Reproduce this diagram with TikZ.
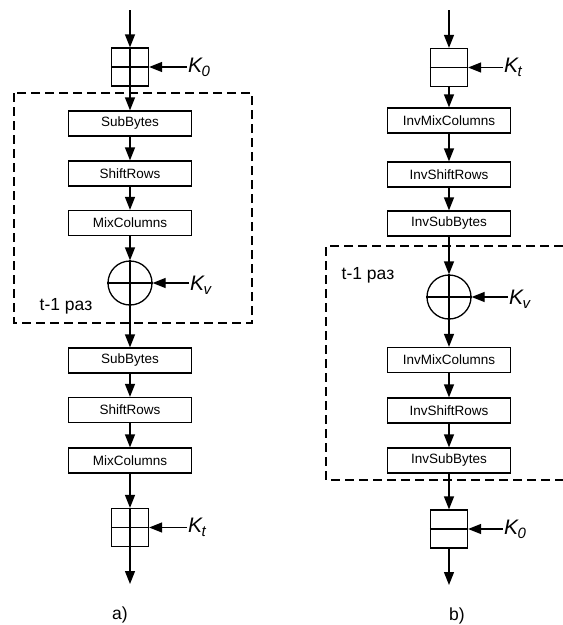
\documentclass[tikz,border=0pt]{standalone}
\usepackage{fontspec}
\setmainfont{Liberation Sans}
\usetikzlibrary{arrows.meta}
\newcommand\keylab[1]{{\fontsize{21}{21}\selectfont\itshape K\kern-0.5pt\raisebox{-4pt}{\fontsize{15}{15}\selectfont #1}}}
\begin{document}
\begin{tikzpicture}[x=1pt,y=-1pt,
  ln/.style={line width=1.3pt},
  arr/.style={ln,-{Triangle[length=13pt,width=10pt]}},
  opbox/.style={draw,ln,minimum width=123pt,minimum height=25pt,inner sep=0pt,font=\fontsize{13.5}{14}\selectfont},
  keybox/.style={draw,ln,minimum width=37pt,minimum height=38pt,inner sep=0pt},
  xorc/.style={draw,ln,circle,minimum size=44pt,inner sep=0pt},
  klabel/.style={anchor=west,inner sep=1pt},
  frame/.style={ln,dash pattern=on 9pt off 5pt},
  txt/.style={font=\fontsize{17.5}{17.5}\selectfont,inner sep=0pt}]
\useasboundingbox (0,0) rectangle (563,625);
% ---------------- a) ----------------
\coordinate (ain) at (130,10);
\node[keybox] (ka0) at (130,67) {};
\draw[ln] (ka0.north)--(ka0.south) (ka0.west)--(ka0.east);
\node[klabel] (lk0) at (187,67) {\keylab{0}};
\draw[frame] (14,93) rectangle (252,323);
\node[opbox] (sb1) at (130,123.5) {SubBytes};
\node[opbox] (sr1) at (130,173.5) {ShiftRows};
\node[opbox] (mc1) at (130,223) {MixColumns};
\node[xorc] (x1) at (130,283) {};
\draw[ln] (x1.north)--(x1.south) (x1.west)--(x1.east);
\node[klabel] (lkv1) at (189,285) {\keylab{v}};
\node[txt] (ta) at (66,306) {t-1 раз};
\node[opbox] (sb2) at (130,360.5) {SubBytes};
\node[opbox] (sr2) at (130,410) {ShiftRows};
\node[opbox] (mc2) at (130,460.5) {MixColumns};
\node[keybox] (ka1) at (130,527.5) {};
\draw[ln] (ka1.north)--(ka1.south) (ka1.west)--(ka1.east);
\node[klabel] (lkt1) at (187,527.5) {\keylab{t}};
\coordinate (aout) at (130,584);
\node[txt] (la) at (120,615) {a)};
\draw[arr] (ain)--(ka0.north);
\draw[arr] (lk0.west)--(ka0.east);
\draw[arr] (ka0.south)--(sb1.north);
\draw[arr] (sb1)--(sr1);
\draw[arr] (sr1)--(mc1);
\draw[arr] (mc1)--(x1.north);
\draw[arr] (lkv1.west|-x1.east)--(x1.east);
\draw[arr] (x1.south)--(sb2.north);
\draw[arr] (sb2)--(sr2);
\draw[arr] (sr2)--(mc2);
\draw[arr] (mc2)--(ka1.north);
\draw[arr] (lkt1.west)--(ka1.east);
\draw[arr] (ka1.south)--(aout);
% ---------------- b) ----------------
\coordinate (bin) at (449,10);
\node[keybox] (kb0) at (449,67.5) {};
\draw[ln] (kb0.west)--(kb0.east);
\node[klabel] (lkt2) at (503,67.5) {\keylab{t}};
\node[opbox] (imc1) at (449,120.5) {InvMixColumns};
\node[opbox] (isr1) at (449,174.5) {InvShiftRows};
\node[opbox] (isb1) at (449,223.5) {InvSubBytes};
\draw[frame] (563,246) -- (326,246) -- (326,480) -- (563,480);
\node[txt] (tb) at (368,275) {t-1 раз};
\node[xorc] (x2) at (449,297) {};
\draw[ln] (x2.north)--(x2.south) (x2.west)--(x2.east);
\node[klabel] (lkv2) at (508,299) {\keylab{v}};
\node[opbox] (imc2) at (449,360) {InvMixColumns};
\node[opbox] (isr2) at (449,410.5) {InvShiftRows};
\node[opbox] (isb2) at (449,460.5) {InvSubBytes};
\node[keybox] (kb1) at (449,529) {};
\draw[ln] (kb1.west)--(kb1.east);
\node[klabel] (lk02) at (503,529) {\keylab{0}};
\coordinate (bout) at (449,585);
\node[txt] (lb) at (457,616) {b)};
\draw[arr] (bin)--(kb0.north);
\draw[arr] (lkt2.west)--(kb0.east);
\draw[arr] (kb0.south)--(imc1.north);
\draw[arr] (imc1)--(isr1);
\draw[arr] (isr1)--(isb1);
\draw[arr] (isb1)--(x2.north);
\draw[arr] (lkv2.west|-x2.east)--(x2.east);
\draw[arr] (x2.south)--(imc2.north);
\draw[arr] (imc2)--(isr2);
\draw[arr] (isr2)--(isb2);
\draw[arr] (isb2)--(kb1.north);
\draw[arr] (lk02.west)--(kb1.east);
\draw[arr] (kb1.south)--(bout);
\end{tikzpicture}
\end{document}
